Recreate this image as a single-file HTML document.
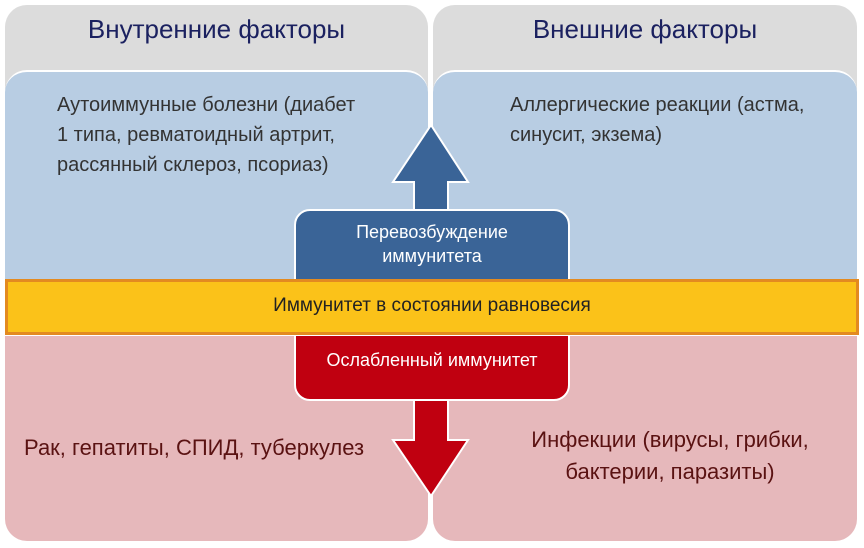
<!DOCTYPE html>
<html><head><meta charset="utf-8"><style>
body{margin:0;width:864px;height:548px;background:#fff;position:relative;overflow:hidden;font-family:"Liberation Sans Narrow","Liberation Sans",sans-serif}
div{position:absolute;box-sizing:border-box}
.g{background:#dcdcdc;border-radius:22px 22px 0 0;top:5px;height:100px}
.b{background:#b8cde3;border-radius:22px 22px 0 0;top:70px;height:210px;border-top:2px solid #fff}
.p{background:#e6b8bb;border-radius:0 0 22px 22px;top:336px;height:205px}
.h{top:14px;font-size:26px;color:#1b2160;text-align:center}
.t{font-size:20px;color:#333;line-height:30px}
.r{font-size:22px;color:#5a1212;line-height:32px}
</style></head><body>
<div class="g" style="left:5px;width:423px"></div>
<div class="g" style="left:433px;width:424px"></div>
<div class="h" style="left:5px;width:423px">Внутренние факторы</div>
<div class="h" style="left:433px;width:424px">Внешние факторы</div>
<div class="b" style="left:5px;width:423px"></div>
<div class="b" style="left:433px;width:424px"></div>
<div class="p" style="left:5px;width:423px"></div>
<div class="p" style="left:433px;width:424px"></div>
<div class="t" style="left:57px;top:90px">Аутоиммунные болезни (диабет<br>1 типа, ревматоидный артрит,<br>рассянный склероз, псориаз)</div>
<div class="t" style="left:510px;top:90px">Аллергические реакции (астма,<br>синусит, экзема)</div>
<svg style="position:absolute;left:0;top:0" width="864" height="548">
<polygon points="431,125 393,182 414,182 414,212 448,212 448,182 468,182" fill="#3a6497" stroke="#fff" stroke-width="2"/>
<polygon points="431,496 393,440 414,440 414,396 448,396 448,440 468,440" fill="#c00010" stroke="#fff" stroke-width="2"/>
</svg>
<div style="left:294px;top:209px;width:276px;height:72px;background:#3a6497;border:2px solid #fff;border-radius:16px 16px 0 0;color:#fff;font-size:18px;line-height:24px;text-align:center;padding-top:9px">Перевозбуждение<br>иммунитета</div>
<div style="left:294px;top:334px;width:276px;height:67px;background:#c00010;border:2px solid #fff;border-radius:0 0 16px 16px;color:#fff;font-size:18px;text-align:center;padding-top:14px">Ослабленный иммунитет</div>
<div style="left:5px;top:279px;width:854px;height:56px;background:#fbc219;border:3px solid #e38a20;font-size:19px;color:#222;text-align:center;line-height:48px">Иммунитет в состоянии равновесия</div>
<div class="r" style="left:24px;top:432px">Рак, гепатиты, СПИД, туберкулез</div>
<div class="r" style="left:520px;top:424px;width:300px;text-align:center">Инфекции (вирусы, грибки,<br>бактерии, паразиты)</div>
</body></html>
